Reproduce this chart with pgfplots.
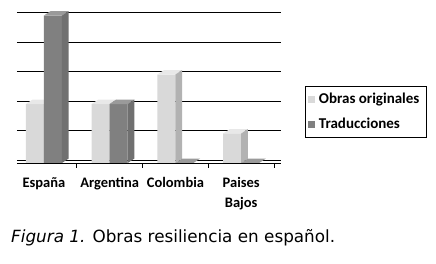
\documentclass[border=0pt]{standalone}
\usepackage{fontspec}
\usepackage{pgfplots}
\pgfplotsset{compat=1.18}
\setmainfont{Carlito}
\newfontfamily\capfont{DejaVu Sans}
\definecolor{lightF}{HTML}{D9D9D9}
\definecolor{lightT}{HTML}{E8E8E8}
\definecolor{lightS}{HTML}{B2B2B2}
\definecolor{darkF}{HTML}{808080}
\definecolor{darkT}{HTML}{9A9A9A}
\definecolor{darkS}{HTML}{707070}
\pgfplotsset{sqlegend/.style={legend image code/.code={\fill[##1] (0bp,-3.5bp) rectangle (7bp,3.5bp);}}}
\begin{document}
\begin{tikzpicture}
\useasboundingbox (0,0) rectangle (436bp,264bp);
\begin{axis}[
  at={(17bp,101bp)}, anchor=south west,
  scale only axis, width=264bp, height=153.4bp,
  xmin=-0.41, xmax=3.605, ymin=0, ymax=5.2,
  axis line style={draw=none},
  ytick={0.1,1.1,2.1,3.1,4.1,5.1}, yticklabels={,,,,,}, ytick style={draw=none},
  extra y ticks={0}, extra y tick labels={},
  ymajorgrids, major grid style={black, line width=0.9pt},
  xtick={0.5,1.5,2.5,3.5}, xticklabels={,,,}, xtick style={black, line width=0.9pt},
  xtick pos=bottom, ytick pos=left,
  tick align=outside, major tick length=5bp,
  extra x ticks={0,1,2,3},
  extra x tick labels={España,Argentina,Colombia,{\begin{tabular}[t]{@{}c@{}}Paises\\Bajos\end{tabular}}},
  extra x tick style={major tick length=0pt, xtick style={draw=none},
    xticklabel style={font=\fontsize{14.5bp}{20bp}\selectfont\bfseries, anchor=base, inner sep=0pt, yshift=-25bp}},
  legend style={at={(axis description cs:1.0909,0.502)}, anchor=north west, draw=black, line width=0.8pt,
    font=\fontsize{15bp}{17bp}\selectfont\bfseries, inner xsep=3bp, inner ysep=5.5bp, row sep=10bp,
    nodes={inner xsep=3.5bp, inner ysep=1.5bp}},
  legend cell align=left,
  clip=false,
]
% Obras originales (front faces)
\addplot[ybar, bar width=18bp, bar shift=-9bp, fill=lightF, draw=none, sqlegend]
  coordinates {(0,2) (1,2) (2,3) (3,1)};
\addlegendentry{Obras originales}
% tops and sides of Obras originales
\addplot[fill=lightT, draw=none, forget plot] coordinates {(-0.274,2) (-0.174,2.15) (0.1,2.15) (0,2)} -- cycle;
\addplot[fill=lightS, draw=none, forget plot] coordinates {(0,0) (0.1,0.15) (0.1,2.15) (0,2)} -- cycle;
\addplot[fill=lightT, draw=none, forget plot] coordinates {(0.726,2) (0.826,2.15) (1.1,2.15) (1,2)} -- cycle;
\addplot[fill=lightS, draw=none, forget plot] coordinates {(1,0) (1.1,0.15) (1.1,2.15) (1,2)} -- cycle;
\addplot[fill=lightT, draw=none, forget plot] coordinates {(1.726,3) (1.826,3.15) (2.1,3.15) (2,3)} -- cycle;
\addplot[fill=lightS, draw=none, forget plot] coordinates {(2,0) (2.1,0.15) (2.1,3.15) (2,3)} -- cycle;
\addplot[fill=lightT, draw=none, forget plot] coordinates {(2.726,1) (2.826,1.15) (3.1,1.15) (3,1)} -- cycle;
\addplot[fill=lightS, draw=none, forget plot] coordinates {(3,0) (3.1,0.15) (3.1,1.15) (3,1)} -- cycle;
% Traducciones (front faces)
\addplot[ybar, bar width=18bp, bar shift=9bp, fill=darkF, draw=none, sqlegend]
  coordinates {(0,5) (1,2) (2,0) (3,0)};
\addlegendentry{Traducciones}
\addplot[fill=darkT, draw=none, forget plot] coordinates {(0,5) (0.1,5.15) (0.374,5.15) (0.274,5)} -- cycle;
\addplot[fill=darkS, draw=none, forget plot] coordinates {(0.274,0) (0.374,0.15) (0.374,5.15) (0.274,5)} -- cycle;
\addplot[fill=darkT, draw=none, forget plot] coordinates {(1,2) (1.1,2.15) (1.374,2.15) (1.274,2)} -- cycle;
\addplot[fill=darkS, draw=none, forget plot] coordinates {(1.274,0) (1.374,0.15) (1.374,2.15) (1.274,2)} -- cycle;
\addplot[fill=darkT, draw=none, forget plot] coordinates {(2,0) (2.1,0.15) (2.374,0.15) (2.274,0)} -- cycle;
\addplot[fill=darkT, draw=none, forget plot] coordinates {(3,0) (3.1,0.15) (3.374,0.15) (3.274,0)} -- cycle;
\end{axis}
\node[anchor=base west, inner sep=0pt, font=\capfont\fontsize{16.8bp}{20bp}\selectfont] at (11bp,22bp)
  {\textit{Figura 1.} Obras resiliencia en español.};
\end{tikzpicture}
\end{document}
